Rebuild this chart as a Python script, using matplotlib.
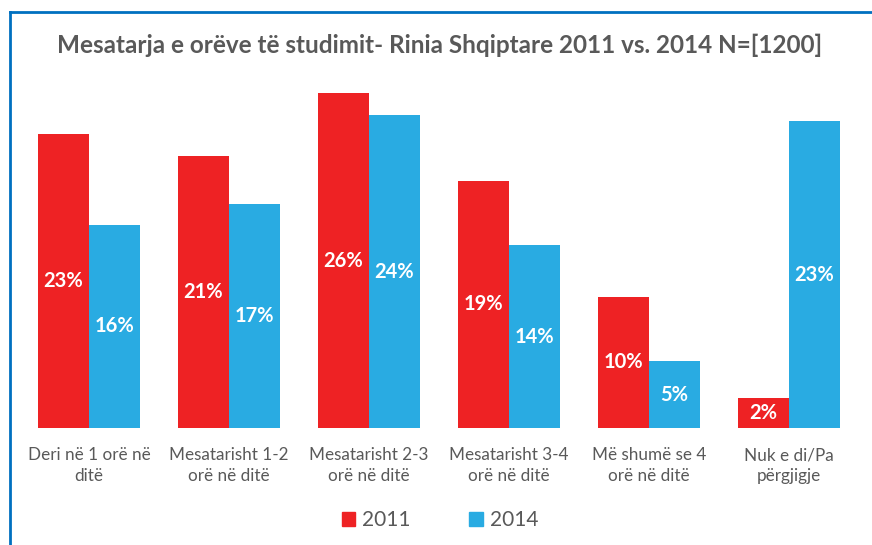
import numpy as np
import matplotlib.pyplot as plt
from matplotlib.lines import Line2D
from matplotlib.patches import Patch

plt.rcParams['font.family'] = ['Lato', 'DejaVu Sans']

categories = ["Deri në 1 orë në\nditë", "Mesatarisht 1-2\norë në ditë",
              "Mesatarisht 2-3\norë në ditë", "Mesatarisht 3-4\norë në ditë",
              "Më shumë se 4\norë në ditë", "Nuk e di/Pa\npërgjigje"]
v2011 = [22.8, 21.1, 26.0, 19.2, 10.2, 2.3]
v2014 = [15.8, 17.4, 24.3, 14.2, 5.2, 23.8]
lab2011 = ["23%", "21%", "26%", "19%", "10%", "2%"]
lab2014 = ["16%", "17%", "24%", "14%", "5%", "23%"]

red = "#EE2224"
blue = "#29ABE2"
grey = "#595959"

fig = plt.figure(figsize=(8.72, 5.45), dpi=100)
ax = fig.add_axes([19 / 872, 1 - 428 / 545, 840 / 872, 360.6 / 545])

x = np.arange(len(categories))
w = 0.364
b1 = ax.bar(x - w / 2, v2011, w, color=red, label="2011")
b2 = ax.bar(x + w / 2, v2014, w, color=blue, label="2014")

for bars, labs in ((b1, lab2011), (b2, lab2014)):
    for r, t in zip(bars, labs):
        ax.text(r.get_x() + r.get_width() / 2, r.get_height() / 2, t,
                ha='center', va='center', color='white', fontsize=14.5,
                fontweight='bold')

ax.set_xlim(-0.5, len(categories) - 0.5)
ax.set_ylim(0, 28)
ax.set_xticks(x)
ax.set_xticklabels(categories, fontsize=12.3, color=grey, linespacing=1.35)
ax.tick_params(axis='x', length=0, pad=14)
ax.set_yticks([])
for s in ax.spines.values():
    s.set_visible(False)

fig.text(440 / 872, 1 - 45 / 545, "Mesatarja e orëve të studimit- Rinia Shqiptare 2011 vs. 2014 N=[1200]",
         ha='center', va='center', fontsize=17.5, fontweight='bold', color=grey)

handles = [Patch(color=red, label="2011"), Patch(color=blue, label="2014")]
fig.legend(handles=handles, loc='center', bbox_to_anchor=(440 / 872, 1 - 520 / 545),
           ncol=2, frameon=False, fontsize=15, labelcolor=grey,
           handlelength=0.65, handleheight=0.65, columnspacing=2.8, handletextpad=0.35)

fig.add_artist(Line2D([10 / 872, 1], [1 - 12 / 545, 1 - 12 / 545], color="#0070C0", lw=2))
fig.add_artist(Line2D([10 / 872, 10 / 872], [0, 1 - 12 / 545], color="#0070C0", lw=2))

fig.savefig("out.png", dpi=100)
